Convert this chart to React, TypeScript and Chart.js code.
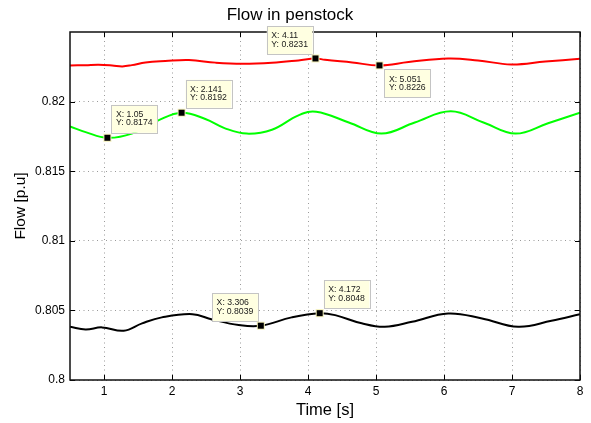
import React, { useEffect, useRef } from "react";
import { Chart, registerables } from "chart.js";

Chart.register(...registerables);

const FONT = '"Liberation Sans", Arial, Helvetica, sans-serif';

const xTicks = [1, 2, 3, 4, 5, 6, 7, 8];
const yTicks = [0.8, 0.805, 0.81, 0.815, 0.82];

const redT = [0.5, 0.73, 0.92, 1.12, 1.27, 1.41, 1.61, 1.9, 2.25, 2.64, 3.03, 3.47, 3.86, 4.11, 4.25, 4.65, 5.051, 5.48, 6.06, 6.5, 6.99, 7.49, 8.0];
const redY = [0.8226, 0.82262, 0.82265, 0.8226, 0.82253, 0.82262, 0.82281, 0.82291, 0.82298, 0.8228, 0.82272, 0.82279, 0.82296, 0.8231, 0.823, 0.82281, 0.8226, 0.82284, 0.8231, 0.82296, 0.82267, 0.82288, 0.82307];

const greenT = [0.5, 0.73, 1.05, 1.41, 1.8, 2.141, 2.49, 2.78, 3.1, 3.47, 3.86, 4.12, 4.6, 5.08, 5.57, 6.1, 6.58, 7.05, 7.53, 8.0];
const greenY = [0.81822, 0.81781, 0.8174, 0.8177, 0.81865, 0.8192, 0.81875, 0.81808, 0.8177, 0.81798, 0.81901, 0.81927, 0.8185, 0.8177, 0.8185, 0.8193, 0.8185, 0.8177, 0.81845, 0.8192];

const blackT = [0.5, 0.73, 0.97, 1.29, 1.56, 1.85, 2.3, 2.59, 2.98, 3.306, 3.76, 4.172, 4.4, 4.79, 5.13, 5.53, 6.06, 6.56, 7.09, 7.58, 8.0];
const blackY = [0.80382, 0.80363, 0.80378, 0.80354, 0.80407, 0.8045, 0.80473, 0.80435, 0.80395, 0.8039, 0.8045, 0.8048, 0.80466, 0.80407, 0.80382, 0.80418, 0.80478, 0.80442, 0.80382, 0.80425, 0.80473];

const tipX = [1.05, 2.141, 4.11, 5.051, 3.306, 4.172];
const tipY = [0.8174, 0.8192, 0.8231, 0.8226, 0.8039, 0.8048];
const tipPlacement = ["ne", "ne", "nw", "se", "nw", "ne"];

const toPoints = (xs: number[], ys: number[]) => xs.map((x, i) => ({ x, y: ys[i] }));

const framePlugin = {
  id: "matlabFrame",
  afterDatasetsDraw(chart: any) {
    const { ctx, chartArea, scales } = chart;
    const { left, right, top, bottom } = chartArea;
    ctx.save();
    ctx.strokeStyle = "#000";
    ctx.lineWidth = 1;
    ctx.beginPath();
    xTicks.forEach((v) => {
      const px = Math.round(scales.x.getPixelForValue(v)) + 0.5;
      ctx.moveTo(px, bottom);
      ctx.lineTo(px, bottom - 5);
      ctx.moveTo(px, top);
      ctx.lineTo(px, top + 5);
    });
    yTicks.forEach((v) => {
      const py = Math.round(scales.y.getPixelForValue(v)) + 0.5;
      ctx.moveTo(left, py);
      ctx.lineTo(left + 5, py);
      ctx.moveTo(right, py);
      ctx.lineTo(right - 5, py);
    });
    ctx.stroke();
    ctx.strokeStyle = "#111";
    ctx.lineWidth = 1.5;
    ctx.strokeRect(left, top, right - left, bottom - top);

    ctx.font = `8.7px ${FONT}`;
    tipX.forEach((x, i) => {
      const y = tipY[i];
      const mx = scales.x.getPixelForValue(x);
      const my = scales.y.getPixelForValue(y);
      const l1 = `X: ${x}`;
      const l2 = `Y: ${y}`;
      const w = Math.max(ctx.measureText(l1).width, ctx.measureText(l2).width) + 9;
      const h = 28;
      const pl = tipPlacement[i];
      let bx = mx + 4;
      let by = my - 5 - h;
      if (pl === "nw") {
        bx = mx - 3 - w;
        by = my - 4.5 - h;
      } else if (pl === "se") {
        bx = mx + 5;
        by = my + 4;
      }
      ctx.fillStyle = "#ffffe1";
      ctx.fillRect(bx, by, w, h);
      ctx.strokeStyle = "#c4c4c4";
      ctx.lineWidth = 1;
      ctx.strokeRect(Math.round(bx) + 0.5, Math.round(by) + 0.5, Math.round(w), h);
      ctx.fillStyle = "#1a1a1a";
      ctx.textBaseline = "middle";
      ctx.textAlign = "left";
      ctx.fillText(l1, bx + 4.5, by + 9.8);
      ctx.fillText(l2, bx + 4.5, by + 18.2);
      ctx.fillStyle = "#f3efb8";
      ctx.fillRect(mx - 4, my - 4, 8, 8);
      ctx.fillStyle = "#000";
      ctx.fillRect(mx - 3, my - 3, 6, 6);
    });
    ctx.restore();
  },
};

export default function App() {
  const ref = useRef<HTMLCanvasElement>(null);

  useEffect(() => {
    const canvas = ref.current;
    if (!canvas) return;
    Chart.defaults.font.family = FONT;
    const lineDs = (xs: number[], ys: number[], color: string) => ({
      data: toPoints(xs, ys),
      borderColor: color,
      backgroundColor: color,
      borderWidth: 2,
      pointRadius: 0,
      fill: false,
      tension: 0.4,
    });
    const chart = new Chart(canvas, {
      type: "line",
      data: {
        datasets: [
          lineDs(redT, redY, "#ff0000"),
          lineDs(greenT, greenY, "#00ff00"),
          lineDs(blackT, blackY, "#000000"),
        ],
      },
      options: {
        responsive: false,
        animation: false,
        devicePixelRatio: 1,
        layout: { padding: { left: 0, right: 11, top: 0, bottom: 0 } },
        plugins: {
          legend: { display: false },
          tooltip: { enabled: false },
          title: {
            display: true,
            text: "Flow in penstock",
            color: "#000",
            font: { size: 17, weight: "normal", lineHeight: 1.2, family: FONT },
            padding: { top: 4.8, bottom: 6.8 },
          },
        },
        scales: {
          x: {
            type: "linear",
            min: 0.5,
            max: 8,
            afterBuildTicks: (s: any) => {
              s.ticks = xTicks.map((v) => ({ value: v }));
            },
            afterFit: (s: any) => {
              s.height = 43;
            },
            grid: { color: "#9a9a9a", drawTicks: false, lineWidth: 1 },
            border: { display: false, dash: [1, 3.5] },
            ticks: {
              color: "#000",
              font: { size: 12, family: FONT },
              padding: 4,
              maxRotation: 0,
              autoSkip: false,
              callback: (v: any) => String(v),
            },
            title: {
              display: true,
              text: "Time [s]",
              color: "#000",
              font: { size: 16.5, family: FONT, lineHeight: 1.2 },
              padding: { top: 0, bottom: 2.4 },
            },
          },
          y: {
            type: "linear",
            min: 0.8,
            max: 0.825,
            afterBuildTicks: (s: any) => {
              s.ticks = yTicks.map((v) => ({ value: v }));
            },
            afterFit: (s: any) => {
              s.width = 70;
            },
            grid: { color: "#9a9a9a", drawTicks: false, lineWidth: 1 },
            border: { display: false, dash: [1, 3.5] },
            ticks: {
              color: "#000",
              font: { size: 12, family: FONT },
              padding: 5,
              autoSkip: false,
              callback: (v: any) => String(v),
            },
            title: {
              display: true,
              text: "Flow [p.u]",
              color: "#000",
              font: { size: 15.5, family: FONT, lineHeight: 1.2 },
              padding: { top: 11.5, bottom: 0 },
            },
          },
        },
      },
      plugins: [framePlugin],
    } as any);
    return () => chart.destroy();
  }, []);

  return (
    <div style={{ position: "absolute", left: 0, top: 0, width: 591, height: 423, background: "#fff" }}>
      <canvas ref={ref} width={591} height={423} style={{ display: "block" }} />
    </div>
  );
}
